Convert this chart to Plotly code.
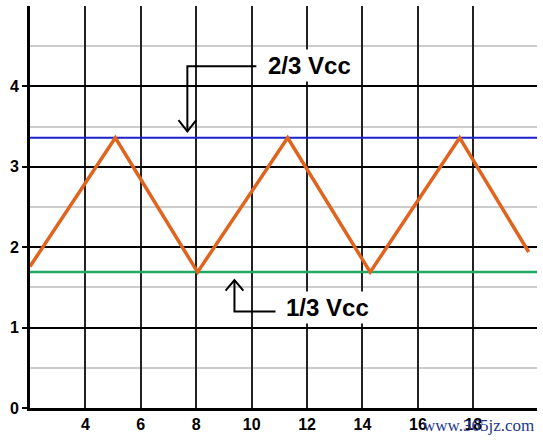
import plotly.graph_objects as go

# data
wave_x = [2.0, 5.08, 8.05, 11.30, 14.28, 17.51, 20.0]
wave_y = [1.76, 3.36, 1.69, 3.36, 1.69, 3.36, 1.94]
upper_level = 3.36   # 2/3 Vcc
lower_level = 1.69   # 1/3 Vcc
x_range = [2.0, 20.3]
y_range = [0, 5.0]
x_ticks = [4, 6, 8, 10, 12, 14, 16, 18]
y_ticks = [0, 1, 2, 3, 4]
upper_label = "2/3 Vcc"
lower_label = "1/3 Vcc"
watermark = "www.365jz.com"

fig = go.Figure()

fig.add_trace(go.Scatter(x=x_range, y=[upper_level, upper_level], mode="lines",
                         line=dict(color="#1a22c8", width=2), hoverinfo="skip"))
fig.add_trace(go.Scatter(x=x_range, y=[lower_level, lower_level], mode="lines",
                         line=dict(color="#1fa866", width=2.5), hoverinfo="skip"))
fig.add_trace(go.Scatter(x=wave_x, y=wave_y, mode="lines",
                         line=dict(color="#e0631e", width=3.5)))

# arrows (data coordinates)
arrow_style = dict(type="path", line=dict(color="black", width=2), layer="above")
fig.add_shape(path="M 10.17 4.25 L 7.68 4.25 L 7.68 3.44", **arrow_style)
fig.add_shape(path="M 7.36 3.58 L 7.68 3.44 L 8.00 3.58", **arrow_style)
fig.add_shape(path="M 10.86 1.20 L 9.38 1.20 L 9.38 1.59", **arrow_style)
fig.add_shape(path="M 9.06 1.46 L 9.38 1.59 L 9.70 1.46", **arrow_style)

label_font = dict(family="Liberation Sans", size=24, color="black", weight="bold")
fig.add_annotation(x=12.10, y=4.26, text=upper_label, showarrow=False,
                   font=label_font, bgcolor="white", borderpad=2)
fig.add_annotation(x=12.75, y=1.245, text=lower_label, showarrow=False,
                   font=label_font, bgcolor="white", borderpad=2)
fig.add_annotation(xref="x domain", yref="y domain", xanchor="center", yanchor="middle",
                   x=(478 - 30) / (537 - 30), y=-(425 - 408) / 402.0,
                   text=watermark, showarrow=False,
                   font=dict(family="Liberation Serif", size=17, color="#24388a"))

fig.update_xaxes(range=x_range, tickvals=x_ticks, showgrid=True, gridcolor="#222222",
                 gridwidth=1.5, showline=True, linecolor="black", linewidth=3,
                 ticks="", zeroline=False,
                 tickfont=dict(family="Liberation Sans", size=16, color="black", weight="bold"))
fig.update_yaxes(range=y_range, tickvals=y_ticks, showgrid=True, gridcolor="black",
                 gridwidth=2, showline=True, linecolor="black", linewidth=3,
                 ticks="outside", ticklen=5, tickwidth=2, tickcolor="black", zeroline=False,
                 minor=dict(dtick=0.5, tick0=0, showgrid=True, gridcolor="#cccccc", gridwidth=1.5),
                 tickfont=dict(family="Liberation Sans", size=16, color="black", weight="bold"))

fig.update_layout(width=543, height=440, margin=dict(l=30, r=6, t=6, b=32),
                  paper_bgcolor="white", plot_bgcolor="white", showlegend=False)

fig.write_html("out.html", config={"displayModeBar": False},
               post_script="document.body.style.margin='0';document.body.style.padding='0';")
